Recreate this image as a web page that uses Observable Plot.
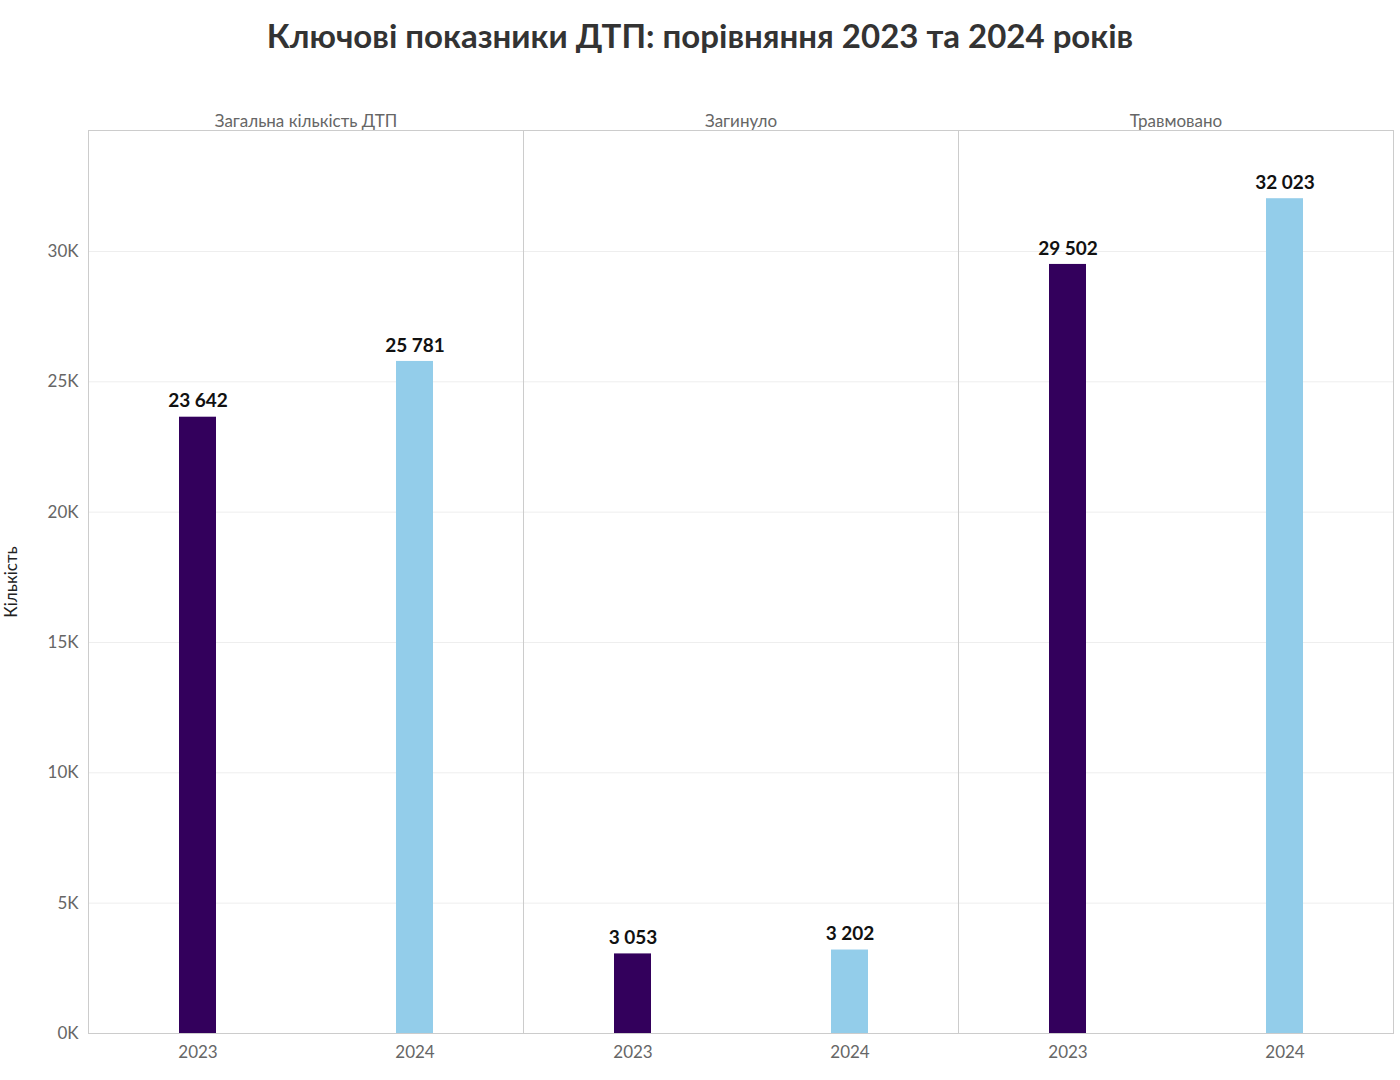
<!DOCTYPE html>
<html><head><meta charset="utf-8">
<script src="https://cdn.jsdelivr.net/npm/d3@7"></script>
<script src="https://cdn.jsdelivr.net/npm/@observablehq/plot@0.6"></script>
<style>
body{margin:0;background:#fff;font-family:Lato,"Open Sans",sans-serif;}
#title{height:70px;line-height:70px;text-align:center;font-size:33px;font-weight:bold;color:#333;}
</style></head>
<body>
<div id="title">Ключові показники ДТП: порівняння 2023 та 2024 років</div>
<div id="chart"></div>
<script>
const metrics = ["Загальна кількість ДТП", "Загинуло", "Травмовано"]
const years = ["2023", "2024"]
const values2023 = [23642, 3053, 29502]
const values2024 = [25781, 3202, 32023]

const data = metrics.flatMap((m, i) => [
  {metric: m, year: "2023", value: values2023[i]},
  {metric: m, year: "2024", value: values2024[i]}
])
const fmt = d3.formatLocale({decimal: ",", thousands: " ", grouping: [3], currency: ["", ""]}).format(",d")

let chart = Plot.plot({
  width: 1400,
  height: 1010,
  marginTop: 60,
  marginBottom: 47,
  marginLeft: 87,
  marginRight: 7,
  style: {fontFamily: "Lato, sans-serif", fontSize: "17px", color: "#666"},
  fx: {domain: metrics, padding: 0, axis: "top", label: null, tickSize: 0, tickPadding: 4},
  x: {domain: years, padding: 0, label: null, tickSize: 0, tickPadding: 12},
  y: {domain: [0, 34640], ticks: [0, 5000, 10000, 15000, 20000, 25000, 30000],
      tickFormat: d => d / 1000 + "K", label: "Кількість", labelAnchor: "center",
      labelArrow: "none", tickSize: 0, tickPadding: 10},
  color: {domain: years, range: ["#33005c", "#93cdea"]},
  marks: [
    Plot.gridY([5000, 10000, 15000, 20000, 25000, 30000], {stroke: "#eee", strokeOpacity: 1}),
    Plot.frame({stroke: "#ccc"}),
    Plot.barY(data, {fx: "metric", x: "year", y: "value", fill: "year", insetLeft: 90, insetRight: 90}),
    Plot.text(data, {fx: "metric", x: "year", y: "value", text: d => fmt(d.value), dy: -16,
      fill: "#111", fontWeight: "bold", fontSize: 19})
  ]
})
d3.select(chart).selectAll("[aria-label='y-axis label'] text").attr("fill", "#222")
d3.select('#chart').append(() => chart)
</script>
</body></html>
